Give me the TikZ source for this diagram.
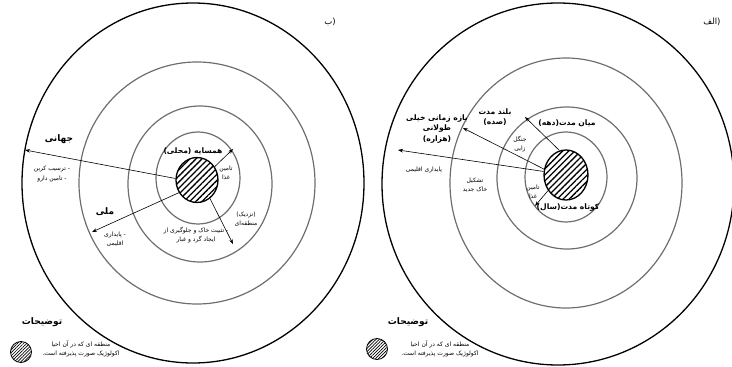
\documentclass[tikz,border=0pt]{standalone}
\usepackage{fontspec}
\usepackage{tikz}
\usetikzlibrary{arrows.meta, positioning, shapes.geometric, patterns.meta}
\TeXXeTstate=1
\newfontfamily\farsi[Script=Arabic]{DejaVu Sans}
\newcommand{\fa}[1]{\beginR #1\endR}
\definecolor{ringgray}{HTML}{6E6E6E}

\begin{document}
\begin{tikzpicture}[x=1pt, y=-1pt,
    ring/.style={draw=ringgray, line width=1.2pt},
    rim/.style={draw=black, line width=1.3pt},
    core/.style={draw, ellipse, inner sep=0pt, line width=1.3pt, pattern={Lines[angle=45, distance=4.3pt, line width=1.3pt]}},
    swatch/.style={draw, circle, inner sep=0pt, minimum size=21pt, line width=0.8pt, pattern={Lines[angle=45, distance=2.2pt, line width=0.7pt]}},
    head/.style={font=\farsi\bfseries\fontsize{7.6}{10.5}\selectfont, align=center, inner sep=1pt},
    big/.style={font=\farsi\bfseries\fontsize{9}{11}\selectfont, inner sep=1pt},
    note/.style={font=\farsi\fontsize{6}{9.5}\selectfont, align=center, inner sep=1pt},
    tag/.style={font=\farsi\fontsize{8.5}{10}\selectfont, inner sep=1pt},
    arr/.style={-{Stealth[length=5pt, width=3.6pt]}, line width=0.6pt},
]
    \useasboundingbox (0,0) rectangle (732,367);

    \draw[rim] (193,183) ellipse [x radius=171, y radius=180];
    \draw[ring] (197,183) ellipse [x radius=118, y radius=121];
    \draw[ring] (200,184) ellipse [x radius=72, y radius=78];
    \draw[ring] (198,178) ellipse [x radius=42, y radius=46];
    \node[core, minimum width=42pt, minimum height=45pt] (coreB) at (197,180) {};

    \draw[rim] (558,184) ellipse [x radius=176, y radius=181];
    \draw[ring] (566,183) ellipse [x radius=116, y radius=125];
    \draw[ring] (567,178) ellipse [x radius=70, y radius=71];
    \draw[ring] (566,177) ellipse [x radius=41, y radius=45];
    \node[core, minimum width=44pt, minimum height=50pt] (coreA) at (566,175) {};

    \coordinate (globalBend) at (25,150);
    \coordinate (nationalBend) at (92,232);
    \coordinate (regionBend) at (233,244);
    \coordinate (localBend) at (233,149);
    \draw[arr] (coreB.176) -- (globalBend);
    \draw[arr] (coreB.215) -- (nationalBend);
    \draw[arr] (coreB.305) -- (regionBend);
    \draw[arr] (coreB.37) -- (localBend);

    \coordinate (climAend) at (398,150);
    \coordinate (eraAend) at (463,128);
    \coordinate (centAend) at (525,117);
    \coordinate (yearAend) at (535,206);
    \draw[arr] (coreA.171) -- (climAend);
    \draw[arr] (coreA.165) -- (eraAend);
    \draw[arr] (coreA.105) -- (centAend);
    \draw[arr] (coreA.221) -- (yearAend);

    \node[tag] (labB) at (330,22) {\fa{(ب}};
    \node[big] (globalB) at (59,139) {\fa{جهانی}};
    \node[note] (globalBn) at (52,174) {\fa{- ترسیب کربن}\\\fa{- تامین دارو}};
    \node[big] (nationalB) at (105,212) {\fa{ملی}};
    \node[note] (nationalBn) at (115,239) {\fa{- پایداری}\\\fa{اقلیمی}};
    \node[head] (localB) at (193,151) {\fa{همسایه (محلی)}};
    \node[note] (foodB) at (226,173) {\fa{تامین}\\\fa{غذا}};
    \node[note] (regionB) at (246,219) {\fa{(نزدیک)}\\\fa{منطقه‌ای}};
    \node[note] (soilB) at (196,235) {\fa{- تثبیت خاک و جلوگیری از}\\\fa{ایجاد گرد و غبار}};

    \node[big] (keyB) at (42,322) {\fa{توضیحات}};
    \node[swatch] (swatchB) at (21,352) {};
    \node[note] (swatchBn) at (81,349) {\fa{منطقه ای که در آن احیا}\\\fa{اکولوژیک صورت پذیرفته است.}};

    \node[tag] (labA) at (712,22) {\fa{(الف}};
    \node[head] (eraA) at (437,129) {\fa{بازه زمانی خیلی}\\\fa{طولانی}\\\fa{(هزاره)}};
    \node[head] (centA) at (495,117) {\fa{بلند مدت}\\\fa{(صده)}};
    \node[head] (decA) at (567,123) {\fa{میان مدت(دهه)}};
    \node[head] (yearA) at (568,208) {\fa{کوتاه مدت(سال)}};
    \node[note] (forestA) at (520,144) {\fa{جنگل}\\\fa{زایی}};
    \node[note] (climA) at (424,170) {\fa{پایداری اقلیمی}};
    \node[note] (soilA) at (475,185) {\fa{تشکیل}\\\fa{خاک جدید}};
    \node[note] (foodA) at (533,192) {\fa{تامین}\\\fa{غذا}};

    \node[big] (keyA) at (408,322) {\fa{توضیحات}};
    \node[swatch] (swatchA) at (377,349) {};
    \node[note] (swatchAn) at (440,349) {\fa{منطقه ای که در آن احیا}\\\fa{اکولوژیک صورت پذیرفته است.}};
\end{tikzpicture}
\end{document}
